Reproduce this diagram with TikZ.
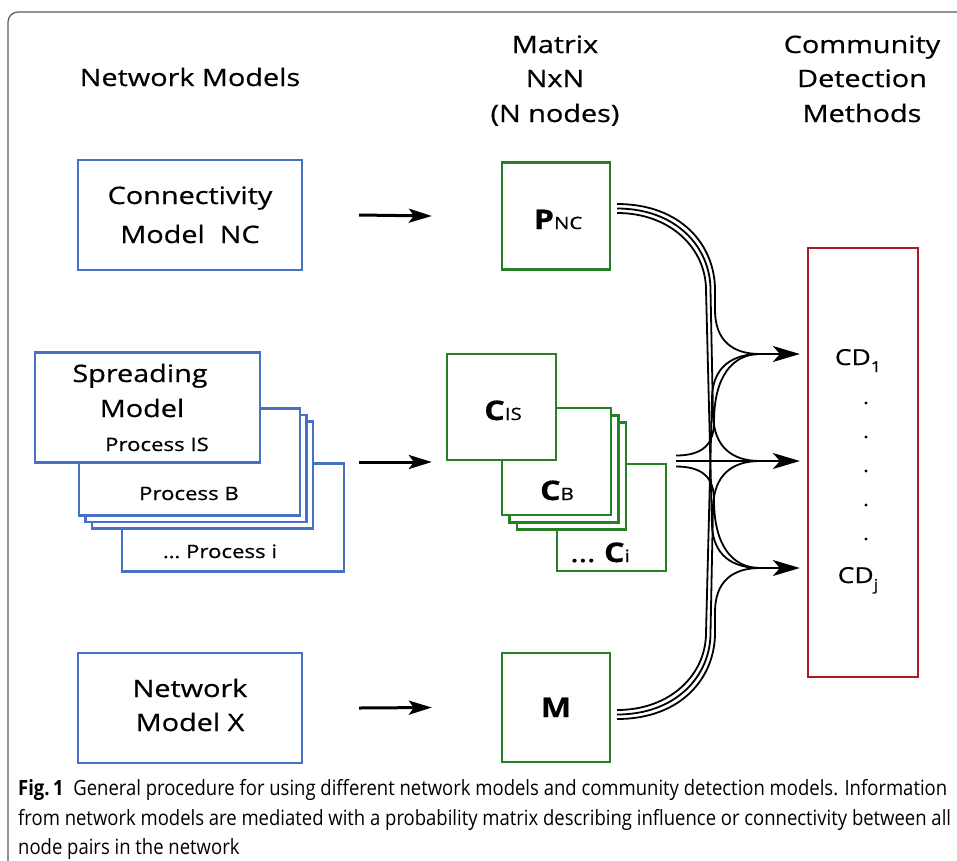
\documentclass[tikz,border=0pt]{standalone}
\usepackage{fontspec}
\setmainfont{Open Sans}
\newfontfamily\dfont[FakeStretch=1.2,FakeBold=0.6]{Open Sans}
\newfontfamily\capfont[FakeStretch=0.88]{Open Sans}
\usetikzlibrary{arrows.meta}

\definecolor{boxblue}{RGB}{72,112,196}
\definecolor{boxgreen}{RGB}{38,128,38}
\definecolor{boxred}{RGB}{178,24,36}
\definecolor{framegray}{RGB}{90,90,90}

\begin{document}
\begin{tikzpicture}[x=1pt,y=-1pt,
  txt/.style={font=\dfont\fontsize{24}{30}\selectfont, inner sep=0pt, anchor=base},
  smalltxt/.style={font=\dfont\fontsize{18.5}{24}\selectfont, inner sep=0pt, anchor=base},
  captxt/.style={font=\capfont\fontsize{21}{28}\selectfont, inner sep=0pt, anchor=base west},
  modelbox/.style={draw=boxblue, line width=2.3pt, fill=white, inner sep=0pt},
  matbox/.style={draw=boxgreen, line width=2.3pt, fill=white, inner sep=0pt},
  cdbox/.style={draw=boxred, line width=2.3pt, fill=white, inner sep=0pt},
  feed/.style={line width=3pt, -{Stealth[length=23pt,width=14pt,inset=5pt]}},
  flow/.style={line width=1.8pt},
  into/.style={line width=1.8pt, -{Stealth[length=27pt,width=16pt,inset=7pt]}, shorten >=7pt}]

\useasboundingbox (0,0) rectangle (957,860);
\draw[framegray, line width=1.2pt, rounded corners=10pt] (8,880) -- (8,12) -- (980,12);

% column headings
\node[txt] (h1) at (190,86) {Network Models};
\node[txt] (h2a) at (555,53) {Matrix};
\node[txt] (h2b) at (555,87) {NxN};
\node[txt] (h2c) at (555,122) {(N nodes)};
\node[txt] (h3a) at (862,53) {Community};
\node[txt] (h3b) at (862,87) {Detection};
\node[txt] (h3c) at (862,122) {Methods};

% network models
\node[modelbox, minimum width=224pt, minimum height=110pt] (nc) at (190,215) {};
\node[txt] at (190,204) {Connectivity};
\node[txt] at (190,243) {Model\ \ NC};

\node[modelbox, minimum width=222pt, minimum height=108pt] (pi) at (233,517.5) {};
\node[modelbox, minimum width=221pt, minimum height=107pt] (l2) at (202.5,475) {};
\node[modelbox, minimum width=221pt, minimum height=107pt] (l1) at (196,468.5) {};
\node[modelbox, minimum width=221pt, minimum height=107pt] (pb) at (189.5,462) {};
\node[modelbox, minimum width=225pt, minimum height=110pt] (sp) at (147.5,407.5) {};
\node[txt] at (140,382) {Spreading};
\node[txt] at (142,417) {Model};
\node[smalltxt] at (157,451) {Process IS};
\node[smalltxt] at (189,500) {Process B};
\node[smalltxt] at (220,558) {\dots\ Process i};

\node[modelbox, minimum width=224pt, minimum height=110pt] (nx) at (190,708) {};
\node[txt] at (190,697) {Network};
\node[txt] at (190,731) {Model X};

% matrices
\node[matbox, minimum width=108pt, minimum height=107pt] (pnc) at (556,216) {};
\node[anchor=base, inner sep=0pt] at (558,229) {\dfont\fontsize{27}{30}\selectfont\bfseries P\fontsize{17}{20}\selectfont\mdseries NC};

\node[matbox, minimum width=109pt, minimum height=107pt] (ci) at (611.5,517.5) {};
\node[matbox, minimum width=109pt, minimum height=107pt] (m2) at (571.5,476) {};
\node[matbox, minimum width=109pt, minimum height=107pt] (m1) at (564,469) {};
\node[matbox, minimum width=109pt, minimum height=107pt] (cb) at (556.5,461.5) {};
\node[matbox, minimum width=109pt, minimum height=106pt] (cis) at (501.5,407) {};
\node[anchor=base, inner sep=0pt] at (503,420) {\dfont\fontsize{27}{30}\selectfont\bfseries C\fontsize{17}{20}\selectfont\mdseries IS};
\node[anchor=base, inner sep=0pt] at (557,500) {\dfont\fontsize{27}{30}\selectfont\bfseries C\fontsize{17}{20}\selectfont\mdseries B};
\node[anchor=base, inner sep=0pt] at (600,562) {\dfont\fontsize{27}{30}\selectfont\dots\ \bfseries C\fontsize{17}{20}\selectfont\mdseries i};

\node[matbox, minimum width=108pt, minimum height=109pt] (mx) at (556,707.5) {};
\node[anchor=base, inner sep=0pt] at (556,717) {\dfont\fontsize{27}{30}\selectfont\bfseries M};

% community detection methods
\node[cdbox, minimum width=110pt, minimum height=429pt] (cd) at (863,462.5) {};
\node[anchor=base, inner sep=0pt] at (858,365) {\dfont\fontsize{22}{26}\selectfont CD\raisebox{-7pt}{\fontsize{15}{18}\selectfont 1}};
\foreach \yy in {403,437,471,505,539}
  \fill (866,\yy) circle (1.7pt);
\node[anchor=base, inner sep=0pt] at (858,583) {\dfont\fontsize{22}{26}\selectfont CD\raisebox{-7pt}{\fontsize{15}{18}\selectfont j}};

% model -> matrix
\draw[feed] ([xshift=56pt]nc.east) -- ([xshift=-69pt]pnc.west);
\draw[feed] ([xshift=14pt]pi.east |- pb.east) -- ([xshift=-14pt]cis.west |- pb.east);
\draw[feed] ([xshift=56pt]nx.east) -- ([xshift=-69pt]mx.west);

% entry points of the three arrows into the detection block
\coordinate (ea) at (760,354);
\coordinate (eb) at (760,461);
\coordinate (ec) at (760,568);

% bundle from the top matrix
\draw[flow] (617,204) .. controls (681,204) and (715,245) .. (715,290) -- (715,310)
  .. controls (715,340) and (732,354) .. (ea);
\draw[flow] (617,208.5) .. controls (676,208.5) and (710.5,247) .. (710.5,290) -- (713,415)
  .. controls (714,447) and (732,461) .. (eb);
\draw[flow] (617,213) .. controls (671,213) and (706,249) .. (706,290) -- (712,525)
  .. controls (713,555) and (732,568) .. (ec);

% bundle from the bottom matrix
\draw[flow] (617,719) .. controls (681,719) and (715,678) .. (715,633) -- (715,612)
  .. controls (715,582) and (732,568) .. (ec);
\draw[flow] (617,714.5) .. controls (676,714.5) and (710.5,676) .. (710.5,633) -- (713,507)
  .. controls (714,475) and (732,461) .. (eb);
\draw[flow] (617,710) .. controls (671,710) and (706,674) .. (706,633) -- (712,397)
  .. controls (713,367) and (732,354) .. (ea);

% bundle from the stacked matrices
\draw[flow] (676,455.5) .. controls (703,455.5) and (714,444) .. (714,422)
  .. controls (714,377) and (732,354) .. (ea);
\draw[flow] (676,461) -- (eb);
\draw[flow] (676,466.5) .. controls (703,466.5) and (714,478) .. (714,500)
  .. controls (714,545) and (732,568) .. (ec);

\draw[into] ([xshift=-5pt]ea) -- (cd.west |- ea);
\draw[into] ([xshift=-5pt]eb) -- (cd.west |- eb);
\draw[into] ([xshift=-5pt]ec) -- (cd.west |- ec);

% caption
\node[captxt] at (18,795) {{\bfseries Fig.\,1}\ \ General procedure for using different network models and community detection models. Information};
\node[captxt] at (18,825) {from network models are mediated with a probability matrix describing influence or connectivity between all};
\node[captxt] at (18,854) {node pairs in the network};
\end{tikzpicture}
\end{document}
